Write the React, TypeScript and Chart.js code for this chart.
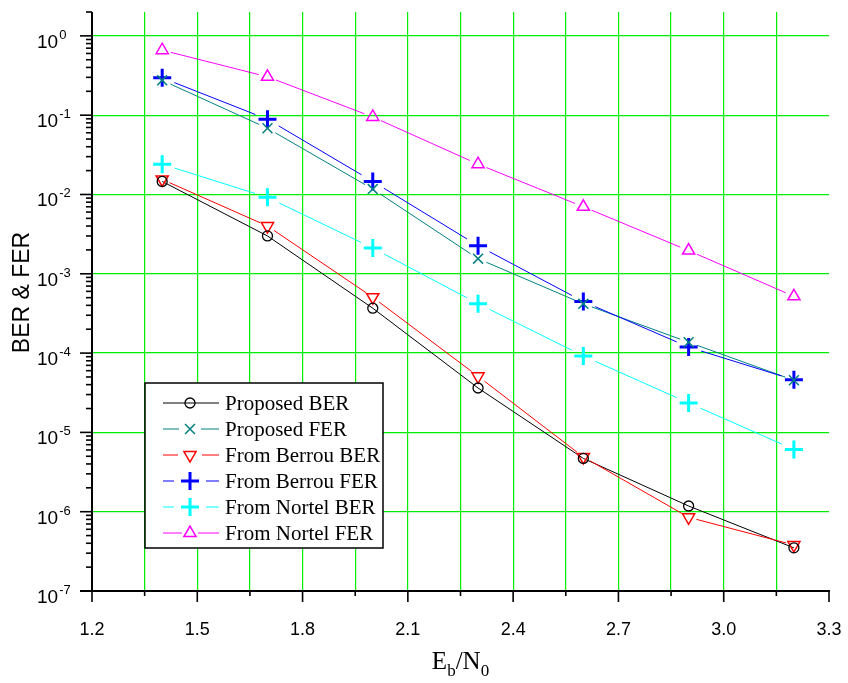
import React, { useEffect, useRef } from 'react';
import { Chart, registerables } from 'chart.js';
import { drawPoint } from 'chart.js/helpers';

Chart.register(...registerables);

// ---- data ----
const ebn0 = [1.4, 1.7, 2.0, 2.3, 2.6, 2.9, 3.2];
const proposedBER = [0.0146, 0.003, 3.68e-4, 3.63e-5, 4.7e-6, 1.18e-6, 3.5e-7];
const proposedFER = [0.275, 0.0684, 0.0117, 0.00155, 4.18e-4, 1.37e-4, 4.55e-5];
const berrouBER = [0.0155, 0.004, 5.06e-4, 5.1e-5, 4.9e-6, 8.5e-7, 3.8e-7];
const berrouFER = [0.296, 0.0888, 0.0146, 0.00226, 4.47e-4, 1.19e-4, 4.6e-5];
const nortelBER = [0.0241, 0.0092, 0.00211, 4.2e-4, 9.2e-5, 2.35e-5, 6.1e-6];
const nortelFER = [0.66, 0.305, 0.095, 0.0241, 0.007, 0.00196, 5.2e-4];

const seriesNames = [
  'Proposed BER',
  'Proposed FER',
  'From Berrou BER',
  'From Berrou FER',
  'From Nortel BER',
  'From Nortel FER',
];

const xMajorTicks = [1.2, 1.5, 1.8, 2.1, 2.4, 2.7, 3.0, 3.3];
const xMajorLabels = ['1.2', '1.5', '1.8', '2.1', '2.4', '2.7', '3.0', '3.3'];
const xMinorTicks = [1.35, 1.65, 1.95, 2.25, 2.55, 2.85, 3.15];
const yDecadeExps = [0, -1, -2, -3, -4, -5, -6, -7];
const yExpLabels = ['0', '-1', '-2', '-3', '-4', '-5', '-6', '-7'];
const yMinorMultipliers = [2, 3, 4, 5, 6, 7, 8, 9];

const GRID = 'rgb(0,238,0)';

type Style = {
  color: string;
  pointStyle: string;
  radius: number;
  rotation: number;
  pointWidth: number;
  gap: number;
  legendGap: number;
};

const styles: Style[] = [
  { color: '#000000', pointStyle: 'circle', radius: 5, rotation: 0, pointWidth: 1.3, gap: 0, legendGap: 0 },
  { color: '#008080', pointStyle: 'crossRot', radius: 7, rotation: 0, pointWidth: 1.5, gap: 9, legendGap: 11 },
  { color: '#ff0000', pointStyle: 'triangle', radius: 7, rotation: 180, pointWidth: 1.5, gap: 8, legendGap: 12 },
  { color: '#0000ff', pointStyle: 'cross', radius: 9, rotation: 0, pointWidth: 3, gap: 13, legendGap: 16 },
  { color: '#00ffff', pointStyle: 'cross', radius: 9, rotation: 0, pointWidth: 3, gap: 13, legendGap: 16 },
  { color: '#ff00ff', pointStyle: 'triangle', radius: 7, rotation: 0, pointWidth: 1.5, gap: 9, legendGap: 8 },
];

const seriesValues = [proposedBER, proposedFER, berrouBER, berrouFER, nortelBER, nortelFER];

function gapLine(ctx: CanvasRenderingContext2D, x1: number, y1: number, x2: number, y2: number, gap: number) {
  const dx = x2 - x1;
  const dy = y2 - y1;
  const len = Math.hypot(dx, dy);
  if (len <= 2 * gap) return;
  const ux = dx / len;
  const uy = dy / len;
  ctx.beginPath();
  ctx.moveTo(x1 + ux * gap, y1 + uy * gap);
  ctx.lineTo(x2 - ux * gap, y2 - uy * gap);
  ctx.stroke();
}

const gapLinesPlugin = {
  id: 'gapLines',
  beforeDatasetsDraw(chart: any) {
    const ctx = chart.ctx as CanvasRenderingContext2D;
    ctx.save();
    const a = chart.chartArea;
    ctx.beginPath();
    ctx.rect(a.left, a.top, a.right - a.left, a.bottom - a.top);
    ctx.clip();
    chart.data.datasets.forEach((ds: any, i: number) => {
      const meta = chart.getDatasetMeta(i);
      ctx.strokeStyle = ds.borderColor;
      ctx.lineWidth = 1;
      for (let j = 0; j < meta.data.length - 1; j++) {
        const p = meta.data[j];
        const q = meta.data[j + 1];
        gapLine(ctx, p.x, p.y, q.x, q.y, styles[i].gap);
      }
    });
    ctx.restore();
  },
};

const axesPlugin = {
  id: 'axesDecor',
  afterDraw(chart: any) {
    const ctx = chart.ctx as CanvasRenderingContext2D;
    const xs = chart.scales.x;
    const ys = chart.scales.y;
    const a = chart.chartArea;
    ctx.save();
    ctx.strokeStyle = '#000';
    ctx.fillStyle = '#000';
    ctx.lineCap = 'butt';

    // axis lines
    ctx.lineWidth = 2;
    ctx.beginPath();
    ctx.moveTo(a.left, a.top);
    ctx.lineTo(a.left, a.bottom);
    ctx.moveTo(a.left - 12, a.bottom);
    ctx.lineTo(a.right + 1, a.bottom);
    ctx.stroke();

    // y ticks
    ctx.lineWidth = 1.6;
    yDecadeExps.forEach((e) => {
      const y = ys.getPixelForValue(Math.pow(10, e));
      ctx.beginPath();
      ctx.moveTo(a.left - 12, y);
      ctx.lineTo(a.left, y);
      ctx.stroke();
      yMinorMultipliers.forEach((m) => {
        const v = m * Math.pow(10, e);
        if (v > ys.max * 1.0001) return;
        const yy = ys.getPixelForValue(v);
        ctx.beginPath();
        ctx.moveTo(a.left - 6, yy);
        ctx.lineTo(a.left, yy);
        ctx.stroke();
      });
    });

    // x ticks
    xMajorTicks.forEach((v) => {
      const x = xs.getPixelForValue(v);
      ctx.beginPath();
      ctx.moveTo(x, a.bottom);
      ctx.lineTo(x, a.bottom + 11);
      ctx.stroke();
    });
    xMinorTicks.forEach((v) => {
      const x = xs.getPixelForValue(v);
      ctx.beginPath();
      ctx.moveTo(x, a.bottom);
      ctx.lineTo(x, a.bottom + 5);
      ctx.stroke();
    });

    // x labels
    ctx.font = '18px "Liberation Sans", Arial, sans-serif';
    ctx.textAlign = 'center';
    ctx.textBaseline = 'alphabetic';
    xMajorTicks.forEach((v, i) => {
      const x = xs.getPixelForValue(v);
      ctx.fillText(xMajorLabels[i], x, a.bottom + 44);
    });

    // y labels with superscripts
    ctx.textAlign = 'left';
    yDecadeExps.forEach((e, i) => {
      const y = ys.getPixelForValue(Math.pow(10, e));
      ctx.font = '19px "Liberation Sans", Arial, sans-serif';
      ctx.fillText('10', 37, y + 12);
      const w = ctx.measureText('10').width;
      ctx.font = '13px "Liberation Sans", Arial, sans-serif';
      ctx.fillText(yExpLabels[i], 37 + w + 1, y + 3);
    });

    // y title
    ctx.save();
    ctx.translate(23, (a.top + a.bottom) / 2 - 9);
    ctx.rotate(-Math.PI / 2);
    ctx.textAlign = 'center';
    ctx.textBaseline = 'middle';
    ctx.font = '23px "Liberation Sans", Arial, sans-serif';
    ctx.fillText('BER & FER', 0, 0);
    ctx.restore();

    // x title E_b/N_0
    const big = '25px "Liberation Serif", "Times New Roman", serif';
    const small = '17px "Liberation Serif", "Times New Roman", serif';
    const parts: [string, string, number][] = [
      ['E', big, 0],
      ['b', small, 7],
      ['/N', big, 0],
      ['0', small, 7],
    ];
    let total = 0;
    parts.forEach(([t, f]) => {
      ctx.font = f;
      total += ctx.measureText(t).width;
    });
    let cx = (a.left + a.right) / 2 - total / 2;
    const base = 669;
    parts.forEach(([t, f, dy]) => {
      ctx.font = f;
      ctx.textAlign = 'left';
      ctx.fillText(t, cx, base + dy);
      cx += ctx.measureText(t).width;
    });

    // legend box
    const lx = 145;
    const ly = 383;
    const lw = 238;
    const lh = 165;
    ctx.fillStyle = '#fff';
    ctx.fillRect(lx, ly, lw, lh);
    ctx.strokeStyle = '#000';
    ctx.lineWidth = 1.5;
    ctx.strokeRect(lx, ly, lw, lh);
    seriesNames.forEach((name, i) => {
      const st = styles[i];
      const ry = ly + 20 + i * 26;
      const mx = lx + 45;
      ctx.strokeStyle = st.color;
      ctx.lineWidth = 1;
      ctx.beginPath();
      ctx.moveTo(lx + 18, ry);
      ctx.lineTo(mx - st.legendGap, ry);
      ctx.moveTo(mx + st.legendGap, ry);
      ctx.lineTo(lx + 74, ry);
      ctx.stroke();
      ctx.fillStyle = 'rgba(0,0,0,0)';
      ctx.lineWidth = st.pointWidth;
      drawPoint(ctx, { pointStyle: st.pointStyle as any, radius: st.radius, rotation: st.rotation, borderWidth: st.pointWidth }, mx, ry);
      ctx.fillStyle = '#000';
      ctx.font = '21px "Liberation Serif", "Times New Roman", serif';
      ctx.textAlign = 'left';
      ctx.textBaseline = 'middle';
      ctx.fillText(name, lx + 80, ry + 1);
      ctx.textBaseline = 'alphabetic';
    });

    ctx.restore();
  },
};

export default function App() {
  const ref = useRef<HTMLCanvasElement | null>(null);
  useEffect(() => {
    if (!ref.current) return;
    const chart = new Chart(ref.current, {
      type: 'scatter',
      data: {
        datasets: seriesValues.map((vals, i) => ({
          label: seriesNames[i],
          data: vals.map((v, j) => ({ x: ebn0[j], y: v })),
          showLine: false,
          borderColor: styles[i].color,
          backgroundColor: 'rgba(0,0,0,0)',
          pointStyle: styles[i].pointStyle as any,
          pointRadius: styles[i].radius,
          pointRotation: styles[i].rotation,
          pointBorderWidth: styles[i].pointWidth,
          pointBorderColor: styles[i].color,
          pointBackgroundColor: 'rgba(0,0,0,0)',
          pointHoverRadius: styles[i].radius,
        })),
      },
      options: {
        animation: false,
        responsive: true,
        maintainAspectRatio: false,
        events: [],
        layout: { padding: { top: 10, right: 19, left: 0, bottom: 0 } },
        plugins: { legend: { display: false }, tooltip: { enabled: false }, title: { display: false } },
        scales: {
          x: {
            type: 'linear',
            min: 1.2,
            max: 3.3,
            afterBuildTicks: (scale: any) => {
              scale.ticks = [...xMajorTicks, ...xMinorTicks]
                .sort((p, q) => p - q)
                .map((v) => ({ value: v }));
            },
            afterFit: (scale: any) => {
              scale.height = 92;
            },
            ticks: { display: false },
            border: { display: false },
            grid: {
              drawTicks: false,
              lineWidth: 1.2,
              color: (c: any) => {
                const v = c.tick ? c.tick.value : 0;
                return Math.abs(v - 1.2) < 1e-6 || Math.abs(v - 3.3) < 1e-6 ? 'rgba(0,0,0,0)' : GRID;
              },
            },
          },
          y: {
            type: 'logarithmic',
            min: 1e-7,
            max: 2,
            afterBuildTicks: (scale: any) => {
              scale.ticks = yDecadeExps.map((e) => ({ value: Math.pow(10, e) }));
            },
            afterFit: (scale: any) => {
              scale.width = 92;
            },
            ticks: { display: false },
            border: { display: false },
            grid: {
              drawTicks: false,
              lineWidth: 1.2,
              color: (c: any) => {
                const v = c.tick ? c.tick.value : 0;
                return v < 2e-7 ? 'rgba(0,0,0,0)' : GRID;
              },
            },
          },
        },
      },
      plugins: [gapLinesPlugin, axesPlugin],
    });
    return () => chart.destroy();
  }, []);

  return (
    <div style={{ position: 'absolute', left: 0, top: 0, width: 848, height: 683, background: '#fff' }}>
      <canvas ref={ref} />
    </div>
  );
}
